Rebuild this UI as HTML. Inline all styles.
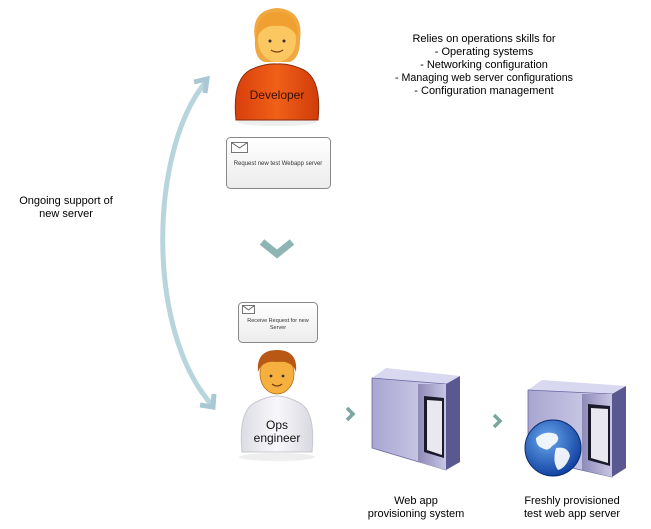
<!DOCTYPE html>
<html><head><meta charset="utf-8"><style>
html,body{margin:0;padding:0;background:#fff;width:651px;height:529px;overflow:hidden}
svg text{font-family:"Liberation Sans Narrow","Liberation Sans",sans-serif}
</style></head><body>
<svg width="651" height="529" viewBox="0 0 651 529" xmlns="http://www.w3.org/2000/svg">
<defs>
<linearGradient id="box" x1="0" y1="0" x2="0" y2="1"><stop offset="0" stop-color="#fff"/><stop offset="1" stop-color="#ececec"/></linearGradient>
<linearGradient id="orange" x1="0" y1="0" x2="1" y2="0"><stop offset="0" stop-color="#d8400c"/><stop offset="0.5" stop-color="#f06018"/><stop offset="1" stop-color="#d03c0a"/></linearGradient>
<linearGradient id="shirt" x1="0" y1="0" x2="1" y2="0"><stop offset="0" stop-color="#dcdce4"/><stop offset="0.5" stop-color="#f8f8fc"/><stop offset="1" stop-color="#d8d8e0"/></linearGradient>
<linearGradient id="srvF" x1="0" y1="0" x2="1" y2="0"><stop offset="0" stop-color="#8e8ab8"/><stop offset="1" stop-color="#c8c6e4"/></linearGradient>
<linearGradient id="srvS" x1="0" y1="0" x2="1" y2="0"><stop offset="0" stop-color="#a8a6d0"/><stop offset="1" stop-color="#d6d6ee"/></linearGradient>
<radialGradient id="globe" cx="0.4" cy="0.35" r="0.7"><stop offset="0" stop-color="#6aa8ee"/><stop offset="1" stop-color="#0c3c9c"/></radialGradient>
</defs>

<!-- curved arrow -->
<path d="M205,83 C150,150 145,330 212,405" fill="none" stroke="#b8d4dc" stroke-width="5"/>
<path d="M194,82 L207,79 L205,93" fill="none" stroke="#a8c8d4" stroke-width="5"/>
<path d="M200,405 L213,407 L214,394" fill="none" stroke="#a8c8d4" stroke-width="5"/>

<text x="66" y="204" font-size="11" text-anchor="middle">Ongoing support of</text>
<text x="66" y="217" font-size="11" text-anchor="middle">new server</text>

<g font-size="11" text-anchor="middle">
<text x="484" y="42">Relies on operations skills for</text>
<text x="484" y="55">- Operating systems</text>
<text x="484" y="68">- Networking configuration</text>
<text x="484" y="81" textLength="178" lengthAdjust="spacingAndGlyphs">- Managing web server configurations</text>
<text x="484" y="94">- Configuration management</text>
</g>

<!-- Developer -->
<ellipse cx="277" cy="122" rx="40" ry="4" fill="#eee"/>
<path d="M236,120 Q232,80 250,70 Q265,63 277,64 Q289,63 304,70 Q322,80 318,120 Z" fill="url(#orange)" stroke="#8a2a08" stroke-width="1"/>
<path d="M255,40 Q250,10 277,8 Q304,10 300,40 Q300,58 290,62 L264,62 Q254,58 255,40Z" fill="#f2a840"/>
<ellipse cx="277" cy="40" rx="19" ry="22" fill="#fbc760"/>
<path d="M256,38 Q256,12 277,12 Q298,12 298,38 Q290,24 277,26 Q264,24 256,38Z" fill="#f0a030"/>
<circle cx="270" cy="41" r="1.5" fill="#333"/><circle cx="284" cy="41" r="1.5" fill="#333"/>
<path d="M271,50 Q277,54 283,50" fill="none" stroke="#7a4010" stroke-width="1.2"/>
<text x="277" y="99" font-size="12" text-anchor="middle" fill="#3a0e00">Developer</text>

<!-- message box 1 -->
<rect x="226.5" y="137.5" width="104" height="51" rx="4" fill="url(#box)" stroke="#888" stroke-width="1"/>
<rect x="231.5" y="142.5" width="16" height="10" fill="#fff" stroke="#555" stroke-width="0.8"/>
<path d="M231.5,142.5 L239.5,148 L247.5,142.5" fill="none" stroke="#555" stroke-width="0.8"/>
<text x="278" y="165" font-size="6" text-anchor="middle" fill="#333">Request new test Webapp server</text>

<!-- down chevron -->
<path d="M262,242 L277,254 L292,242" fill="none" stroke="#8fb4b4" stroke-width="7"/>

<!-- message box 2 -->
<rect x="238.5" y="302.5" width="79" height="40" rx="4" fill="url(#box)" stroke="#888" stroke-width="1"/>
<rect x="242.5" y="305.5" width="12" height="8" fill="#fff" stroke="#555" stroke-width="0.8"/>
<path d="M242.5,305.5 L248.5,310 L254.5,305.5" fill="none" stroke="#555" stroke-width="0.8"/>
<text x="278" y="322" font-size="5.5" text-anchor="middle" fill="#333">Receive Request for new</text>
<text x="278" y="329" font-size="5.5" text-anchor="middle" fill="#333">Server</text>

<!-- Ops engineer -->
<ellipse cx="277" cy="457" rx="38" ry="4" fill="#eee"/>
<path d="M242,452 Q238,410 256,402 Q268,396 277,396 Q286,396 298,402 Q316,410 312,452 Z" fill="url(#shirt)" stroke="#c8c8d0"/>
<ellipse cx="277" cy="374" rx="17" ry="20" fill="#f5b040" stroke="#b87010" stroke-width="0.8"/>
<path d="M258,372 Q256,350 277,350 Q298,350 296,372 Q292,360 277,362 Q262,360 258,372Z" fill="#b85814"/>
<circle cx="271" cy="376" r="1.4" fill="#333"/><circle cx="283" cy="376" r="1.4" fill="#333"/>
<path d="M272,384 Q277,388 282,384" fill="none" stroke="#7a4010" stroke-width="1.2"/>
<text x="277" y="429" font-size="12" text-anchor="middle" fill="#111">Ops</text>
<text x="277" y="442" font-size="12" text-anchor="middle" fill="#111">engineer</text>

<!-- right chevrons -->
<path d="M347,408 L353,414 L347,420" fill="none" stroke="#7aa6a0" stroke-width="3.5"/>
<path d="M494,415 L500,421 L494,427" fill="none" stroke="#7aa6a0" stroke-width="3.5"/>

<!-- server 1 -->
<g>
<path d="M372,378 L386,368 L460,376 L446,384Z" fill="#d8d8f0"/>
<path d="M372,378 L446,384 L446,470 L372,448Z" fill="url(#srvS)" stroke="#6a68a0" stroke-width="0.8"/>
<path d="M446,384 L460,376 L460,462 L446,470Z" fill="#5a5890"/>
<path d="M418,384 L446,384 L446,470 L418,462Z" fill="url(#srvF)"/>
<path d="M424,396 L444,398 L444,458 L424,452Z" fill="#1a1a2a"/>
<path d="M427,400 L442,401 L442,455 L427,450Z" fill="#e8e8ee"/>
</g>
<!-- server 2 -->
<g>
<path d="M528,390 L542,380 L626,386 L612,394Z" fill="#d8d8f0"/>
<path d="M528,390 L612,394 L612,477 L528,458Z" fill="url(#srvS)" stroke="#6a68a0" stroke-width="0.8"/>
<path d="M612,394 L626,386 L626,468 L612,477Z" fill="#5a5890"/>
<path d="M582,394 L612,394 L612,477 L582,470Z" fill="url(#srvF)"/>
<path d="M588,404 L610,406 L610,466 L588,460Z" fill="#1a1a2a"/>
<path d="M591,408 L608,409 L608,463 L591,458Z" fill="#e8e8ee"/>
<circle cx="553" cy="448" r="28" fill="url(#globe)" stroke="#082a70" stroke-width="1"/>
<path d="M536,438 Q545,430 556,434 Q562,440 552,446 Q548,452 542,448 Q536,446 536,438Z" fill="#fff" opacity="0.9"/>
<path d="M556,448 Q568,446 570,456 Q566,468 558,470 Q552,462 556,448Z" fill="#fff" opacity="0.9"/>
</g>

<g font-size="11" text-anchor="middle">
<text x="416" y="504">Web app</text>
<text x="416" y="517">provisioning system</text>
<text x="572" y="504">Freshly provisioned</text>
<text x="572" y="517">test web app server</text>
</g>
</svg>
</body></html>
